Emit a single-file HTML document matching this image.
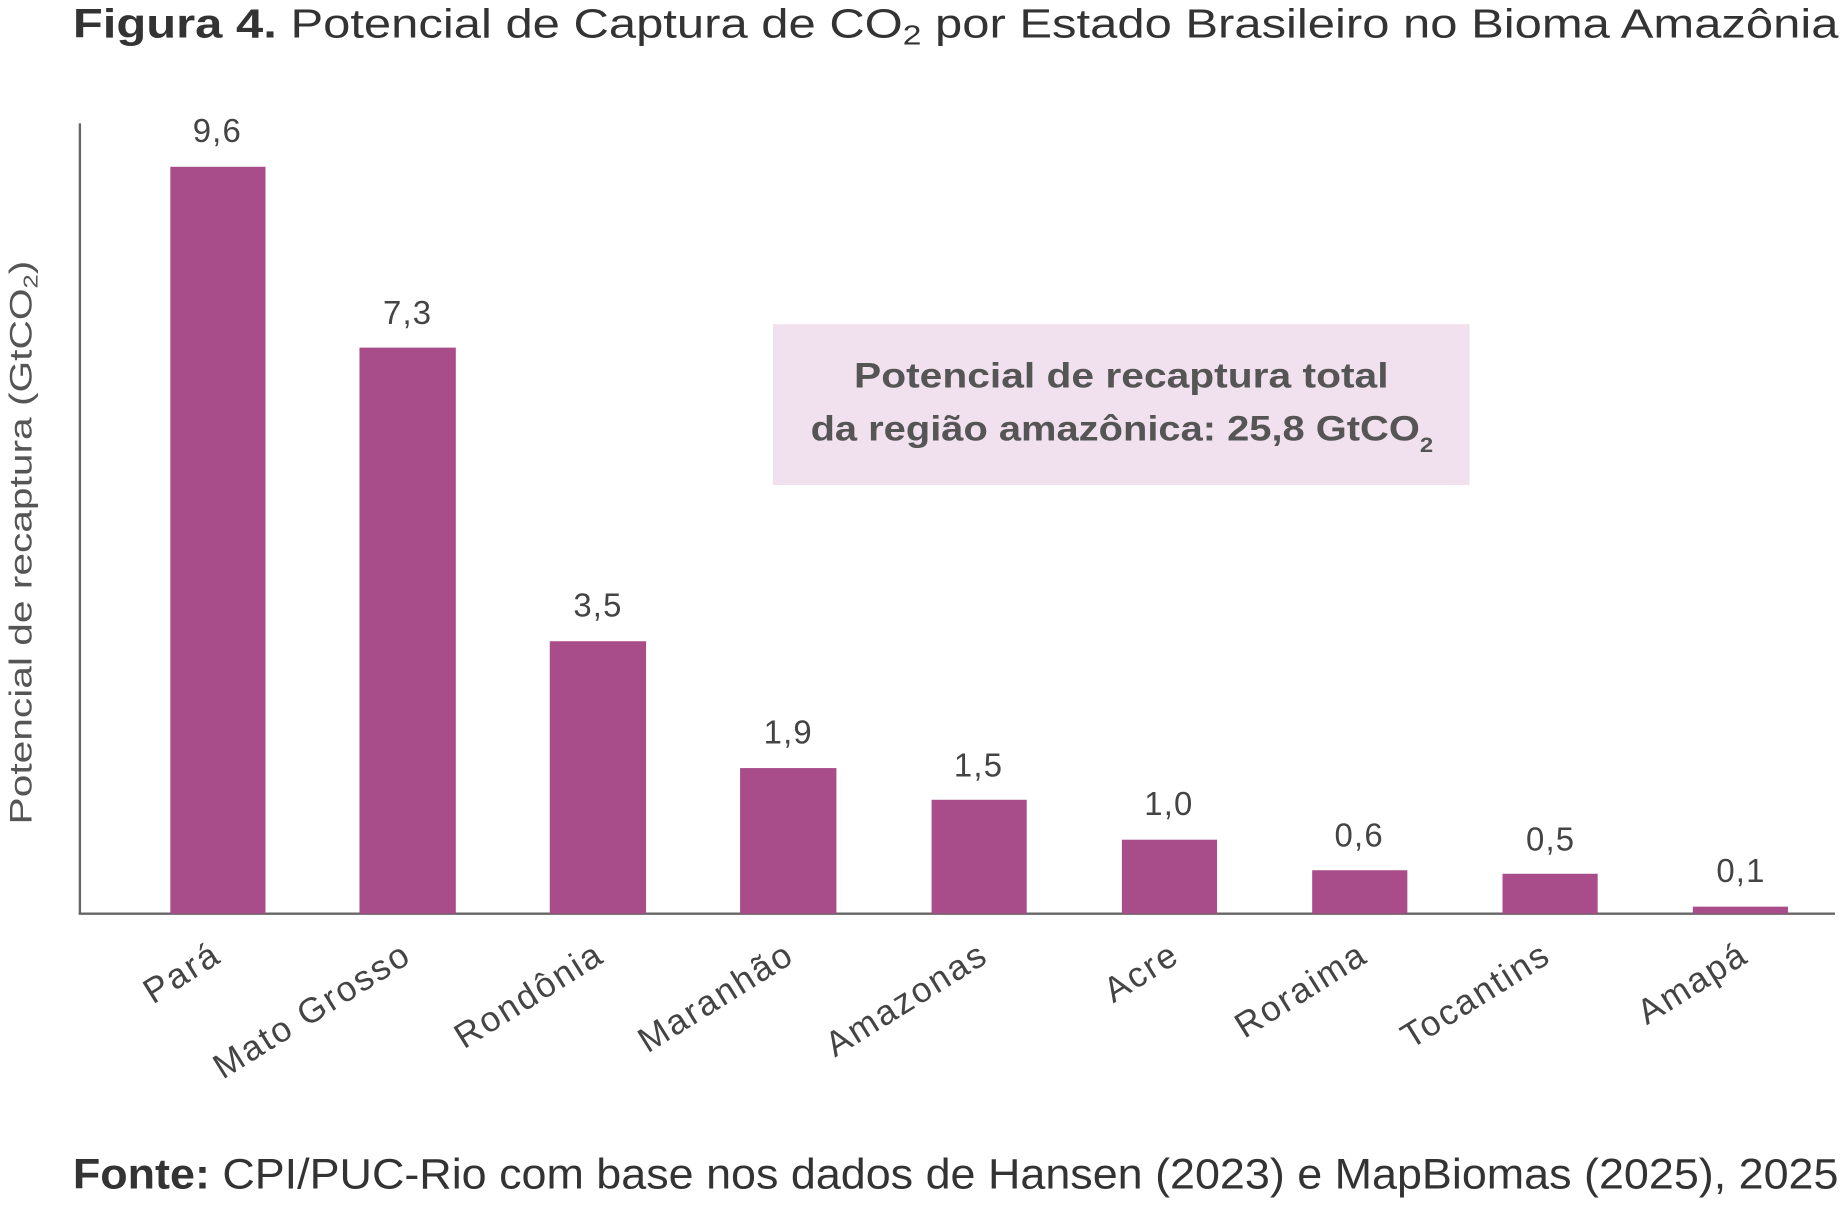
<!DOCTYPE html>
<html><head><meta charset="utf-8"><style>
html,body{margin:0;padding:0;background:#fff}
svg{display:block}
text{font-family:"Liberation Sans",sans-serif}
</style></head><body>
<svg width="1842" height="1212" viewBox="0 0 1568 1032" preserveAspectRatio="none" xmlns="http://www.w3.org/2000/svg">
<text x="62" y="32" font-size="35" fill="#333" textLength="1503" lengthAdjust="spacingAndGlyphs"><tspan font-weight="bold">Figura 4.</tspan> Potencial de Captura de CO<tspan font-size="24" dy="6">2</tspan><tspan dy="-6"> por Estado Brasileiro no Bioma Amazônia</tspan></text>
<line x1="68" y1="105" x2="68" y2="778" stroke="#666" stroke-width="2"/>
<line x1="67" y1="778" x2="1562" y2="778" stroke="#666" stroke-width="2"/>
<g fill="#a84c8a">
<rect x="145" y="142" width="81" height="636"/>
<rect x="306" y="296" width="82" height="482"/>
<rect x="468" y="546" width="82" height="232"/>
<rect x="630" y="654" width="82" height="124"/>
<rect x="793" y="681" width="81" height="97"/>
<rect x="955" y="715" width="81" height="63"/>
<rect x="1117" y="741" width="81" height="37"/>
<rect x="1279" y="744" width="81" height="34"/>
<rect x="1441" y="772" width="81" height="6"/>
</g>
<g font-size="28" fill="#444" text-anchor="middle" letter-spacing="1">
<text x="185" y="121">9,6</text>
<text x="347" y="276">7,3</text>
<text x="509" y="525">3,5</text>
<text x="671" y="633">1,9</text>
<text x="833" y="661">1,5</text>
<text x="995" y="694">1,0</text>
<text x="1157" y="721">0,6</text>
<text x="1320" y="724">0,5</text>
<text x="1482" y="751">0,1</text>
</g>
<g font-size="30" fill="#444" text-anchor="end" letter-spacing="1.8">
<text transform="translate(190,818) rotate(-32)">Pará</text>
<text transform="translate(352,818) rotate(-32)">Mato Grosso</text>
<text transform="translate(516,818) rotate(-32)">Rondônia</text>
<text transform="translate(678,818) rotate(-32)">Maranhão</text>
<text transform="translate(843,818) rotate(-32)">Amazonas</text>
<text transform="translate(1006,818) rotate(-32)">Acre</text>
<text transform="translate(1166,818) rotate(-32)">Roraima</text>
<text transform="translate(1322,818) rotate(-32)">Tocantins</text>
<text transform="translate(1490,818) rotate(-32)">Amapá</text>
</g>
<text transform="translate(27,702) rotate(-90)" font-size="27" fill="#555" textLength="480" lengthAdjust="spacingAndGlyphs">Potencial de recaptura (GtCO<tspan font-size="17" dy="5">2</tspan><tspan dy="-5">)</tspan></text>
<rect x="658" y="276" width="593" height="137" fill="#f1e1ef"/>
<g font-size="30" font-weight="bold" fill="#555">
<text x="727" y="330" textLength="455" lengthAdjust="spacingAndGlyphs">Potencial de recaptura total</text>
<text x="690" y="375" textLength="530" lengthAdjust="spacingAndGlyphs">da região amazônica: 25,8 GtCO<tspan font-size="18" dy="10">2</tspan></text>
</g>
<text x="62" y="1012" font-size="36" fill="#333" textLength="1503" lengthAdjust="spacingAndGlyphs"><tspan font-weight="bold">Fonte:</tspan> CPI/PUC-Rio com base nos dados de Hansen (2023) e MapBiomas (2025), 2025</text>
</svg>
</body></html>
